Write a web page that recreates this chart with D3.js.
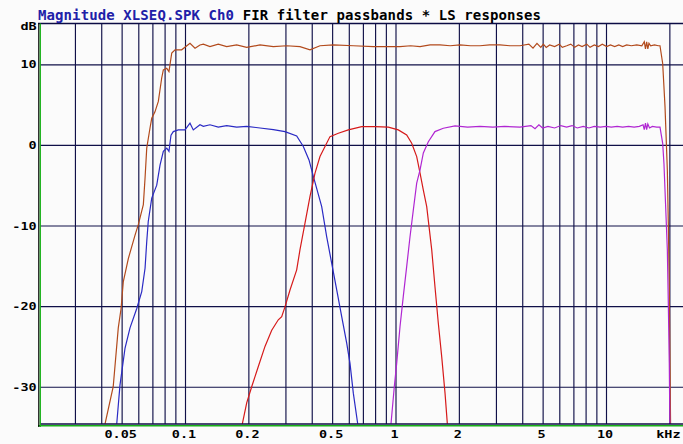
<!DOCTYPE html>
<html>
<head>
<meta charset="utf-8">
<script src="https://cdn.jsdelivr.net/npm/d3@7"></script>
<style>
  body { margin: 0; background: #fbfbfb; }
  svg { display: block; }
  .lbl { font-family: "DejaVu Sans Mono", monospace; font-weight: bold; font-size: 10px; fill: #000; }
</style>
</head>
<body>
<svg id="chart" width="683" height="444"></svg>
<script>
// ---- data (kHz, dB) ----
var gridFreqs = [0.03,0.04,0.05,0.06,0.07,0.08,0.09,0.1,0.2,0.3,0.4,0.5,0.6,0.7,0.8,0.9,1,2,3,4,5,6,7,8,9,10,20];
var xTickValues = [0.05,0.1,0.2,0.5,1,2,5,10,20];
var xTickLabels = ["0.05","0.1","0.2","0.5","1","2","5","10","kHz"];
var yTickValues = [10,0,-10,-20,-30];

var lsResponse = [[0.0417,-34.6],[0.0456,-30],[0.0482,-22.7],[0.0497,-20.3],[0.0509,-17],[0.0538,-14.1],[0.0579,-11.2],[0.060,-9.9],[0.0634,-7.4],[0.0646,-4.1],[0.0658,-0.4],[0.0682,2.1],[0.0695,3.3],[0.072,4.1],[0.0747,5.4],[0.0775,8.3],[0.0789,9.3],[0.0819,9.5],[0.0839,9.1],[0.0865,11.4],[0.0897,11.8],[0.0964,11.8],[0.1056,12.6],[0.1116,12.0],[0.1178,12.4],[0.1222,12.5],[0.1314,12.2],[0.1439,12.5],[0.1578,12.2],[0.176,12.4],[0.1964,12.1],[0.2272,12.4],[0.2628,12.2],[0.3042,12.3],[0.3518,12.2],[0.3925,11.8],[0.4378,12.3],[0.5065,12.4],[0.6304,12.3],[0.7848,12.2],[0.9761,12.2],[1.051,12.2],[1.18,12.3],[1.308,12.2],[1.46,12.4],[1.627,12.4],[1.82,12.3],[2.025,12.4],[2.27,12.3],[2.52,12.3],[2.8,12.4],[3.136,12.4],[3.5,12.3],[3.903,12.3],[4.3,12.5],[4.5,12.0],[4.7,12.6],[4.9,12.1],[5.04,12.5],[5.2,12.1],[5.4,12.4],[5.7,12.2],[6.0,12.5],[6.2,12.1],[6.508,12.3],[6.8,12.5],[7.1,12.1],[7.4,12.4],[7.7,12.2],[8.1,12.5],[8.4,12.1],[8.8,12.4],[9.2,12.2],[9.6,12.5],[10.08,12.2],[10.5,12.4],[11,12.2],[11.5,12.4],[12,12.2],[12.54,12.4],[13.2,12.3],[14,12.4],[14.8,12.3],[15.2,12.8],[15.4,11.9],[15.6,12.8],[15.8,11.9],[16.0,12.6],[16.3,12.3],[17,12.4],[17.72,12.3],[18.05,12.3],[18.59,10.1],[19.07,4.75],[19.56,-3.1],[19.77,-9.7],[19.98,-17.6],[20.14,-27.5],[20.29,-36]];

var lowBand = [[0.0474,-34.6],[0.0491,-29.8],[0.0519,-25.2],[0.0548,-22.7],[0.059,-20.3],[0.0623,-18.2],[0.0646,-15.3],[0.0658,-12],[0.0669,-9.5],[0.0695,-6.6],[0.0734,-5],[0.0761,-2.5],[0.0789,-0.8],[0.0819,-0.4],[0.0839,-0.8],[0.0858,1.2],[0.088,1.65],[0.0929,1.86],[0.1,1.86],[0.1056,2.7],[0.1095,1.86],[0.1178,2.5],[0.1222,2.3],[0.1314,2.5],[0.1439,2.2],[0.1578,2.4],[0.176,2.2],[0.1964,2.3],[0.2272,2.1],[0.2628,1.9],[0.2985,1.65],[0.3393,1.1],[0.3648,-0.2],[0.3882,-1.86],[0.4071,-3.9],[0.4461,-7.65],[0.4712,-11.4],[0.4977,-14.7],[0.5257,-18],[0.5552,-21.3],[0.5864,-24.6],[0.6079,-27.1],[0.6304,-30.8],[0.6613,-34.6]];

var midBand = [[0.1872,-34.6],[0.1964,-32],[0.2074,-30],[0.223,-27.5],[0.2399,-25],[0.2582,-23],[0.2775,-21.7],[0.288,-21.3],[0.2985,-20.1],[0.3154,-18],[0.3393,-15.5],[0.3518,-13],[0.3716,-9.7],[0.3925,-6.4],[0.4146,-3.5],[0.4378,-1.45],[0.4625,-0.2],[0.4885,1.03],[0.5351,1.45],[0.597,1.86],[0.691,2.27],[0.7992,2.27],[0.9243,2.2],[1.031,1.86],[1.13,1.24],[1.194,0.2],[1.261,-1.45],[1.308,-3.5],[1.356,-5.6],[1.407,-7.65],[1.486,-13],[1.54,-17.6],[1.597,-22.1],[1.658,-26.3],[1.719,-30.8],[1.763,-34.6]];

var highBand = [[0.952,-34.6],[0.987,-30],[1.013,-27.1],[1.051,-22.5],[1.089,-18.8],[1.13,-15.1],[1.172,-11.4],[1.215,-8.1],[1.261,-4.75],[1.308,-3.1],[1.356,-1.0],[1.432,0.4],[1.54,1.65],[1.687,2.07],[1.918,2.36],[2.2,2.2],[2.52,2.3],[2.9,2.2],[3.3,2.3],[3.9,2.2],[4.4,2.4],[4.6,2.0],[4.8,2.5],[5.0,2.1],[5.3,2.3],[5.7,2.1],[6.1,2.4],[6.5,2.2],[6.9,2.4],[7.3,2.1],[7.8,2.3],[8.3,2.1],[8.8,2.3],[9.4,2.2],[10,2.3],[10.6,2.2],[11.3,2.3],[12,2.2],[12.8,2.3],[13.6,2.2],[14.4,2.3],[15.0,2.5],[15.2,1.9],[15.4,2.7],[15.6,1.9],[15.8,2.6],[16.1,2.1],[16.6,2.3],[17.4,2.2],[18.05,2.2],[18.59,0.2],[18.85,-2.3],[19.26,-8.5],[19.56,-13],[19.77,-19.6],[19.98,-27],[20.14,-36]];

var seriesColors = { ls: "#b24a1c", low: "#2a2ac4", mid: "#d61a1a", high: "#b026d2" };

// ---- layout ----
var plotLeft = 40, plotRight = 683, plotTop = 23.5, plotBottom = 424;
var svg = d3.select("#chart");

// Scales
var x = d3.scaleLog().domain([0.1, 10]).range([185, 606]);
var y = d3.scaleLinear().domain([-30, 10]).range([386.7, 64.3]);

svg.append("rect").attr("width", 683).attr("height", 444).attr("fill", "#fbfbfb");

svg.append("clipPath").attr("id", "plotclip")
   .append("rect").attr("x", plotLeft).attr("y", plotTop)
   .attr("width", plotRight - plotLeft).attr("height", plotBottom - plotTop);

// Grid (vertical) via axis ticks; thin lines so off-pixel ones blur lighter like the original
var gx = svg.append("g")
            .attr("transform", "translate(0," + plotBottom + ")")
            .call(d3.axisBottom(x).tickValues(gridFreqs).tickSize(-(plotBottom - plotTop)).tickFormat(""));
gx.select(".domain").remove();
gx.selectAll("line").attr("stroke", "#101048").attr("stroke-width", 1.15);

// Grid (horizontal)
var gy = svg.append("g")
            .attr("transform", "translate(" + plotLeft + ",0)")
            .call(d3.axisLeft(y).tickValues(yTickValues).tickSize(-(plotRight - plotLeft)).tickFormat(""));
gy.select(".domain").remove();
gy.selectAll("line").attr("stroke", "#101048").attr("stroke-width", 1.15);

// Curves
var line = d3.line()
             .x(function(d) { return x(d[0]); })
             .y(function(d) { return y(d[1]); });
var plot = svg.append("g").attr("clip-path", "url(#plotclip)");
[[lsResponse, seriesColors.ls], [lowBand, seriesColors.low], [midBand, seriesColors.mid], [highBand, seriesColors.high]]
  .forEach(function(s) {
    plot.append("path")
        .datum(s[0])
        .attr("fill", "none")
        .attr("stroke", s[1])
        .attr("stroke-width", 1.2)
        .attr("d", line);
  });

// Frame
svg.append("line").attr("x1", 38).attr("x2", 683).attr("y1", plotTop).attr("y2", plotTop)
   .attr("stroke", "#0c0c44").attr("stroke-width", 1.6);
svg.append("line").attr("x1", plotLeft).attr("x2", 683).attr("y1", plotBottom).attr("y2", plotBottom)
   .attr("stroke", "#0c0c44").attr("stroke-width", 1.6);
svg.append("line").attr("x1", 38).attr("x2", 683).attr("y1", 425.8).attr("y2", 425.8)
   .attr("stroke", "#18b018").attr("stroke-width", 1.4);
svg.append("line").attr("x1", 38.8).attr("x2", 38.8).attr("y1", plotTop).attr("y2", 427)
   .attr("stroke", "#000").attr("stroke-width", 1.2);
svg.append("line").attr("x1", 40.3).attr("x2", 40.3).attr("y1", plotTop).attr("y2", 427)
   .attr("stroke", "#18b018").attr("stroke-width", 1.3);

// X labels
var xa = svg.append("g")
            .attr("transform", "translate(0," + plotBottom + ")")
            .call(d3.axisBottom(x).tickValues(xTickValues).tickSize(0)
                    .tickFormat(function(d, i) { return xTickLabels[i]; }));
xa.select(".domain").remove();
xa.selectAll("text")
  .attr("class", "lbl")
  .attr("y", 14.5).attr("dy", null)
  .attr("transform", "translate(-1.5,0) scale(1.35,1)");

// Y labels (plain hyphen for the minus sign)
var ya = svg.append("g")
            .attr("transform", "translate(" + plotLeft + ",0)")
            .call(d3.axisLeft(y).tickValues(yTickValues).tickSize(0)
                    .tickFormat(function(d) { return String(d); }));
ya.select(".domain").remove();
ya.selectAll("text")
  .attr("class", "lbl")
  .attr("x", -3.3 / 1.35).attr("dy", null).attr("y", 3.6)
  .attr("transform", "scale(1.35,1)");

svg.append("text").attr("class", "lbl")
   .attr("transform", "translate(36.7,30) scale(1.35,1)")
   .attr("text-anchor", "end")
   .text("dB");

// Title
var title = svg.append("text")
               .attr("x", 38).attr("y", 20)
               .attr("textLength", 503)
               .attr("lengthAdjust", "spacing")
               .style("font-family", "'DejaVu Sans Mono', monospace")
               .style("font-weight", "bold")
               .style("font-size", "14px");
title.append("tspan").attr("fill", "#2020a8").text("Magnitude XLSEQ.SPK Ch0");
title.append("tspan").attr("fill", "#000").text(" FIR filter passbands * LS responses");
</script>
</body>
</html>
